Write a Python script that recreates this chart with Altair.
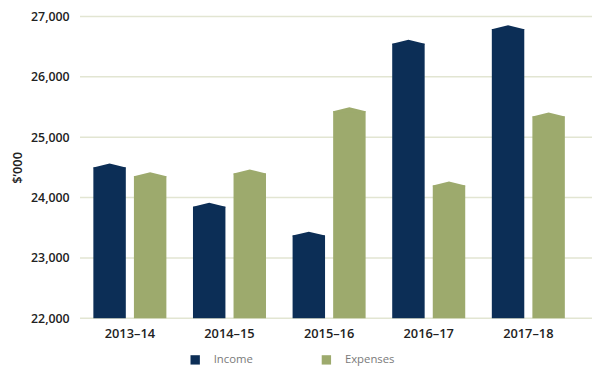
import altair as alt
import pandas as pd

years = ["2013–14", "2014–15", "2015–16", "2016–17", "2017–18"]
income = [24500, 23850, 23370, 26550, 26790]
expenses = [24355, 24400, 25430, 24200, 25345]
series = ["Income", "Expenses"]
colors = ["#0c2e56", "#9daa6d"]
y_ticks = [22000, 23000, 24000, 25000, 26000, 27000]

rows = []
for i, yr in enumerate(years):
    rows.append({"year": yr, "series": "Income", "value": income[i]})
    rows.append({"year": yr, "series": "Expenses", "value": expenses[i]})
df = pd.DataFrame(rows)
grid = pd.DataFrame({"v": y_ticks})

FONT = "Open Sans"

x_enc = alt.X("year:N", sort=years, title=None,
              scale=alt.Scale(paddingInner=0.267, paddingOuter=0.134),
              axis=alt.Axis(labelAngle=0, ticks=False, domain=False, labelPadding=9,
                            labelFont=FONT, labelFontSize=13, labelFontWeight=600,
                            labelColor="#222222"))
xo_enc = alt.XOffset("series:N", sort=series, scale=alt.Scale(paddingInner=0.2))
y_scale = alt.Scale(domain=[22000, 27000], nice=False, zero=False)
y_axis = alt.Axis(values=y_ticks, format=",.0f", grid=False, ticks=False, domain=False,
                  labelPadding=11, labelFont=FONT, labelFontSize=12.5,
                  labelFontWeight=600, labelColor="#222222",
                  titleFont=FONT, titleFontSize=13, titleFontWeight=600,
                  titleColor="#222222", titlePadding=6)
color_enc = alt.Color("series:N", sort=series,
                      scale=alt.Scale(domain=series, range=colors),
                      legend=alt.Legend(title=None, orient="none", direction="horizontal",
                                        legendX=111, legendY=342, symbolType="square",
                                        symbolSize=90, symbolStrokeWidth=0, labelOffset=13,
                                        columnPadding=68, padding=0,
                                        labelFont=FONT, labelFontSize=11.5,
                                        labelColor="#7a7a7a"))

gridlines = alt.Chart(grid).mark_rule(color="#e2e5d2", strokeWidth=1.5).encode(
    y=alt.Y("v:Q", scale=y_scale, title="$’000", axis=y_axis),
    x=alt.value(0), x2=alt.value(519))

bars = alt.Chart(df).mark_bar(clip=True).encode(
    x=x_enc, xOffset=xo_enc,
    y=alt.Y("value:Q", scale=y_scale, title="$’000", axis=y_axis),
    color=color_enc)

tops = alt.Chart(df).mark_point(shape="M-1,0.06L-1,0L0,-0.24L1,0L1,0.06Z", size=1080,
                                filled=True, opacity=1, strokeWidth=0).encode(
    x=alt.X("year:N", sort=years), xOffset=alt.XOffset("series:N", sort=series),
    y=alt.Y("value:Q", scale=y_scale, title="$’000", axis=y_axis),
    color=alt.Color("series:N", sort=series, legend=None))

chart = alt.layer(gridlines, bars, tops).properties(
    width=505, height=306,
    background="white",
    autosize=alt.AutoSizeParams(type="none"),
    padding={"left": 73, "top": 6, "right": 14, "bottom": 65},
).configure_view(stroke=None)

chart.save("out.html", embed_options={"renderer": "svg", "actions": False})
